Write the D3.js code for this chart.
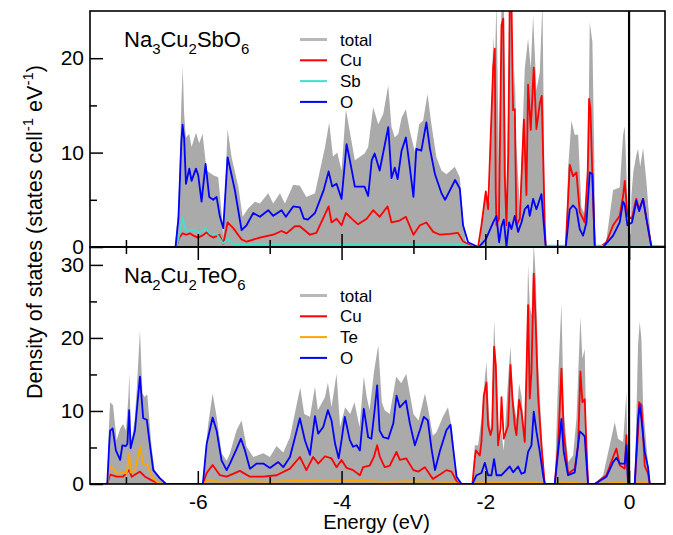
<!DOCTYPE html>
<html><head><meta charset="utf-8">
<script src="https://cdn.jsdelivr.net/npm/d3@7"></script>
<style>
body{margin:0;background:#fff}
text{font-family:"Liberation Sans",Arial,Helvetica,sans-serif;fill:#000}
</style>
</head><body>
<svg id="chart" width="673" height="535"></svg>
<script>
// ---------------- DATA ----------------
const energyDomain = [-7.5, 0.5];
const xMajorTicks = [-6, -4, -2, 0];
const xMinorTicks = [-7, -5, -3, -1];
const topYDomain = [0, 25];
const topYMajor = [0, 10, 20];
const topYMinor = [5, 15];
const botYDomain = [0, 32.45];
const botYMajor = [0, 10, 20, 30];
const botYMinor = [5, 15, 25];
const topLegend = ["total", "Cu", "Sb", "O"];
const botLegend = ["total", "Cu", "Te", "O"];

// Na3Cu2SbO6 (top panel), [energy eV, DOS]
const sbTotal = [[-7.5,0],[-6.32,0],[-6.27,4],[-6.23,15],[-6.21,19.1],[-6.19,14],[-6.165,11.6],[-6.12,12.0],[-6.087,10.6],[-6.026,12.1],[-5.98,11.0],[-5.934,12.0],[-5.878,8.1],[-5.785,7.6],[-5.716,7.4],[-5.669,3.6],[-5.646,1.1],[-5.586,12.5],[-5.53,9.5],[-5.437,6.4],[-5.377,3.2],[-5.298,4.1],[-5.206,4.8],[-5.136,4.6],[-5.02,5.7],[-4.951,4.6],[-4.858,5.7],[-4.788,4.6],[-4.673,6.6],[-4.58,6.5],[-4.49,5.3],[-4.37,5.7],[-4.23,10.6],[-4.172,13.2],[-4.12,9.6],[-4.06,10.0],[-4.0,8.1],[-3.94,14.6],[-3.885,12.2],[-3.815,9.2],[-3.68,9.9],[-3.63,10.6],[-3.56,14.8],[-3.49,13.0],[-3.42,14.1],[-3.351,17.1],[-3.305,12.7],[-3.26,11.6],[-3.21,12.0],[-3.165,13.7],[-3.106,14.6],[-3.05,12.3],[-2.98,10.1],[-2.92,13.0],[-2.865,13.4],[-2.804,16.2],[-2.75,13.0],[-2.68,9.5],[-2.61,8.1],[-2.54,7.7],[-2.424,8.5],[-2.355,7.4],[-2.31,3.0],[-2.27,0.6],[-2.24,0],[-2.077,0],[-2.054,2.7],[-1.993,5.9],[-1.938,4.6],[-1.891,22.4],[-1.868,19],[-1.845,26],[-1.808,7.6],[-1.775,26],[-1.743,26],[-1.706,4.1],[-1.66,26],[-1.636,26],[-1.613,13.6],[-1.59,18.8],[-1.567,10.7],[-1.52,4.1],[-1.451,18.9],[-1.405,22.1],[-1.368,18.9],[-1.335,24.5],[-1.289,16.6],[-1.242,18.5],[-1.205,26],[-1.173,4],[-1.159,0],[-0.881,0],[-0.848,8.3],[-0.802,13.4],[-0.756,11.9],[-0.709,11.9],[-0.663,4.2],[-0.617,3.5],[-0.57,9.0],[-0.547,23.8],[-0.51,21.7],[-0.487,11],[-0.468,0],[-0.361,0],[-0.315,0.8],[-0.222,6.05],[-0.13,6.3],[-0.083,11.9],[-0.06,12.8],[-0.023,5],[-0.01,0],[0.02,0],[0.033,5.5],[0.06,8.0],[0.10,9.7],[0.125,10.4],[0.155,8.5],[0.195,10.5],[0.241,7.0],[0.311,0],[0.5,0]];
const sbCu = [[-7.5,0],[-6.30,0],[-6.26,1.0],[-6.212,1.45],[-6.16,1.3],[-6.11,1.45],[-6.06,1.2],[-6.0,1.0],[-5.94,1.2],[-5.878,1.55],[-5.83,1.2],[-5.785,1.0],[-5.70,1.3],[-5.646,0.3],[-5.586,2.6],[-5.507,2.0],[-5.391,0.8],[-5.32,0.56],[-5.136,1.0],[-4.951,1.3],[-4.835,1.7],[-4.765,1.45],[-4.649,2.2],[-4.58,2.2],[-4.44,1.3],[-4.35,1.5],[-4.18,4.3],[-4.14,2.6],[-4.07,3.0],[-4.0,2.3],[-3.94,3.6],[-3.86,3.0],[-3.77,2.4],[-3.65,3.0],[-3.56,3.9],[-3.47,3.2],[-3.36,4.3],[-3.305,2.6],[-3.19,2.8],[-3.105,3.2],[-3.0,1.3],[-2.91,2.3],[-2.82,2.6],[-2.725,1.6],[-2.63,1.3],[-2.49,1.4],[-2.38,1.5],[-2.31,0.6],[-2.17,0],[-2.10,0],[-2.054,2.3],[-1.993,5.9],[-1.961,4.0],[-1.891,19.0],[-1.868,21.0],[-1.855,6],[-1.845,2.3],[-1.81,3],[-1.775,23.5],[-1.75,24.2],[-1.729,7.5],[-1.706,2.3],[-1.68,10],[-1.66,26],[-1.636,26],[-1.613,14.5],[-1.59,14.6],[-1.567,2.3],[-1.52,3.0],[-1.463,13.5],[-1.428,5.5],[-1.405,17.2],[-1.368,12.4],[-1.326,19.0],[-1.289,12.5],[-1.242,15.2],[-1.215,16.0],[-1.173,2.3],[-1.159,0],[-0.881,0],[-0.825,8.7],[-0.779,7.5],[-0.732,7.9],[-0.686,3.7],[-0.617,2.6],[-0.575,8],[-0.556,15.7],[-0.538,14.6],[-0.51,7.5],[-0.477,0],[-0.40,0],[-0.315,0.5],[-0.222,2.3],[-0.13,3.3],[-0.083,5.4],[-0.06,7.0],[-0.023,3.3],[0.04,3.0],[0.079,4.4],[0.10,5.1],[0.14,4.0],[0.195,5.1],[0.241,3.0],[0.311,0],[0.5,0]];
const sbSb = [[-7.5,0],[-6.30,0],[-6.25,1.5],[-6.212,3.1],[-6.165,1.7],[-6.087,1.8],[-6.026,1.8],[-5.98,1.5],[-5.892,2.0],[-5.832,1.4],[-5.739,1.4],[-5.646,0.35],[-5.586,0.9],[-5.507,0.3],[-5.40,0.3],[-2.30,0.3],[-2.20,0.05],[-2.05,0.15],[-1.16,0.15],[-0.88,0.15],[0.31,0.15],[0.5,0.1]];
const sbO = [[-7.5,0],[-6.31,0],[-6.27,3],[-6.23,11],[-6.212,12.95],[-6.19,11.5],[-6.165,6.7],[-6.119,8.3],[-6.087,7.0],[-6.026,8.3],[-5.994,7.6],[-5.948,4.8],[-5.892,8.8],[-5.841,5.3],[-5.785,5.0],[-5.739,5.3],[-5.692,3.2],[-5.646,2.0],[-5.586,9.5],[-5.544,8.1],[-5.484,6.0],[-5.391,1.8],[-5.322,2.3],[-5.229,3.6],[-5.136,3.2],[-5.02,3.9],[-4.951,3.3],[-4.835,3.9],[-4.775,3.2],[-4.673,4.3],[-4.58,4.2],[-4.524,3.0],[-4.47,2.9],[-4.37,3.6],[-4.25,6.0],[-4.18,8.0],[-4.13,6.4],[-4.07,6.7],[-4.0,5.1],[-3.93,10.9],[-3.885,9.2],[-3.815,6.4],[-3.68,6.4],[-3.63,5.4],[-3.58,9.2],[-3.54,9.9],[-3.47,8.1],[-3.35,12.7],[-3.305,7.3],[-3.26,8.4],[-3.22,7.2],[-3.165,10.2],[-3.105,11.6],[-3.05,8.4],[-3.0,5.3],[-2.96,10.4],[-2.89,10.2],[-2.82,13.2],[-2.77,10.4],[-2.70,7.7],[-2.61,5.7],[-2.56,5.0],[-2.42,7.1],[-2.355,6.2],[-2.31,2.3],[-2.24,0.5],[-2.10,0],[-2.054,0.3],[-1.993,0.8],[-1.891,2.6],[-1.845,3.3],[-1.808,0.5],[-1.775,2.2],[-1.743,2.9],[-1.706,0],[-1.669,2.6],[-1.636,1.9],[-1.59,3.3],[-1.544,1.6],[-1.497,2.6],[-1.451,4.0],[-1.405,4.4],[-1.382,3.3],[-1.335,5.1],[-1.289,4.0],[-1.219,5.6],[-1.187,2.5],[-1.159,0],[-0.881,0],[-0.825,4.0],[-0.779,4.4],[-0.732,4.0],[-0.686,1.9],[-0.64,1.2],[-0.593,2.6],[-0.547,7.9],[-0.51,7.7],[-0.477,0],[-0.36,0],[-0.222,1.2],[-0.13,2.6],[-0.083,4.8],[-0.06,4.5],[-0.023,2.3],[0.04,2.6],[0.079,4.0],[0.10,4.9],[0.14,3.8],[0.195,5.1],[0.241,3.0],[0.311,0],[0.5,0]];

// Na2Cu2TeO6 (bottom panel), [energy eV, DOS]
const teTotal = [[-7.5,0],[-7.26,0],[-7.24,7],[-7.22,11.2],[-7.18,10.8],[-7.13,6.0],[-7.08,7.6],[-7.04,8.2],[-7.0,7.3],[-6.965,12],[-6.953,15.2],[-6.935,8],[-6.92,6.0],[-6.88,8.7],[-6.85,12.8],[-6.805,21.05],[-6.77,12.4],[-6.74,11.9],[-6.703,12.3],[-6.643,5.0],[-6.60,1.9],[-6.53,1.0],[-6.44,0],[-5.93,0],[-5.90,4],[-5.854,8.3],[-5.794,12.4],[-5.738,9.2],[-5.669,4.2],[-5.599,3.2],[-5.553,4.2],[-5.46,7.4],[-5.391,8.7],[-5.321,5.1],[-5.228,3.7],[-5.089,4.2],[-4.997,3.7],[-4.904,5.2],[-4.811,4.3],[-4.718,6.4],[-4.626,10.8],[-4.575,13.2],[-4.52,9.6],[-4.44,9.2],[-4.37,13.3],[-4.33,10.1],[-4.23,11.9],[-4.19,13.9],[-4.14,10.5],[-4.07,15.1],[-4.02,7.8],[-3.95,10.5],[-3.88,9.6],[-3.82,11.2],[-3.75,7.8],[-3.69,14.7],[-3.65,11.9],[-3.61,10.1],[-3.55,15.3],[-3.49,19.0],[-3.44,11.2],[-3.40,10.1],[-3.33,9.6],[-3.24,14.7],[-3.17,13.8],[-3.10,15.1],[-3.0,9.6],[-2.93,8.7],[-2.84,12.4],[-2.80,10.5],[-2.73,6.6],[-2.68,7.1],[-2.59,9.2],[-2.52,10.5],[-2.46,7.4],[-2.40,1.0],[-2.33,0],[-2.18,0],[-2.146,5.3],[-2.10,5.3],[-2.054,8.9],[-2.007,14.4],[-1.984,16.7],[-1.947,8.9],[-1.915,7.1],[-1.878,22.4],[-1.845,15.3],[-1.808,5.3],[-1.775,7.1],[-1.743,4.6],[-1.683,14.4],[-1.65,18.8],[-1.613,11.7],[-1.567,8.9],[-1.53,13.75],[-1.497,12.1],[-1.451,6.2],[-1.405,30],[-1.382,24.5],[-1.358,23.1],[-1.326,33],[-1.298,28.1],[-1.266,16.7],[-1.219,7.6],[-1.173,0],[-1.034,0],[-0.987,14.4],[-0.941,24.7],[-0.909,9.9],[-0.848,3.0],[-0.779,3.9],[-0.732,8.9],[-0.677,22.9],[-0.649,17.2],[-0.617,18.5],[-0.593,5.3],[-0.57,0],[-0.477,0],[-0.361,1.2],[-0.269,5.3],[-0.199,8.5],[-0.153,6.2],[-0.083,5.75],[-0.037,12.6],[-0.014,0],[0.079,0],[0.125,19.0],[0.148,22.2],[0.172,19.9],[0.195,10.8],[0.241,5.3],[0.288,0],[0.5,0]];
const teCu = [[-7.5,0],[-7.26,0],[-7.22,1.3],[-7.13,1.0],[-7.04,1.0],[-6.955,1.9],[-6.92,1.0],[-6.805,1.7],[-6.735,1.0],[-6.64,0.5],[-6.53,0],[-5.93,0],[-5.877,1.5],[-5.794,2.6],[-5.692,1.2],[-5.599,1.0],[-5.414,1.8],[-5.275,1.0],[-5.089,1.0],[-4.904,1.2],[-4.718,2.1],[-4.58,3.7],[-4.49,1.9],[-4.395,3.7],[-4.325,2.8],[-4.23,3.8],[-4.14,3.5],[-4.07,2.3],[-4.0,3.3],[-3.93,2.2],[-3.84,1.9],[-3.745,1.2],[-3.70,2.3],[-3.61,2.5],[-3.55,3.7],[-3.505,5.3],[-3.467,3.7],[-3.40,2.3],[-3.33,2.5],[-3.236,4.4],[-3.19,3.3],[-3.10,3.5],[-3.0,1.9],[-2.93,1.7],[-2.84,2.3],[-2.73,0.7],[-2.63,1.3],[-2.54,1.9],[-2.47,1.7],[-2.40,0.4],[-2.36,0],[-2.18,0],[-2.146,3.5],[-2.132,4.6],[-2.077,3.9],[-2.054,5.75],[-2.021,12.1],[-1.984,13.9],[-1.961,8.0],[-1.928,6.7],[-1.905,7.6],[-1.878,18.8],[-1.854,16.3],[-1.822,5.3],[-1.789,7.6],[-1.775,11.9],[-1.743,6.2],[-1.683,8.0],[-1.65,16.3],[-1.622,11.7],[-1.59,8.0],[-1.567,6.7],[-1.53,11.5],[-1.497,9.9],[-1.451,5.75],[-1.405,24.5],[-1.382,11.7],[-1.358,15.3],[-1.326,28.8],[-1.298,21.7],[-1.266,12.1],[-1.219,5.3],[-1.173,0],[-1.034,0],[-0.987,5.3],[-0.941,15.8],[-0.909,7.1],[-0.848,1.4],[-0.756,2.1],[-0.709,5.3],[-0.677,15.4],[-0.649,11.2],[-0.617,11.6],[-0.593,5.3],[-0.57,0],[-0.477,0],[-0.315,1.2],[-0.222,3.7],[-0.176,4.85],[-0.13,2.56],[-0.06,2.1],[-0.037,6.7],[-0.014,0],[0.079,0],[0.125,7.1],[0.139,11.2],[0.172,10.8],[0.218,2.5],[0.264,1.4],[0.288,0],[0.5,0]];
const teTe = [[-7.5,0],[-7.26,0],[-7.22,2.4],[-7.18,2.2],[-7.13,1.4],[-7.04,1.6],[-6.99,1.4],[-6.955,4.2],[-6.935,1.6],[-6.875,1.8],[-6.805,5.1],[-6.76,2.8],[-6.70,2.6],[-6.64,1.0],[-6.57,0.3],[-6.48,0],[-5.93,0],[-5.85,0.6],[-5.70,0.3],[-5.40,0.4],[-5.0,0.3],[-4.6,0.5],[-4.2,0.4],[-3.8,0.5],[-3.4,0.3],[-3.0,0.4],[-2.6,0.3],[-2.40,0.1],[-2.33,0],[-2.18,0],[-2.10,0.2],[-1.30,0.3],[-1.173,0],[-1.034,0],[-0.95,0.3],[-0.57,0],[-0.477,0],[-0.10,0.2],[-0.014,0],[0.079,0],[0.15,0.3],[0.288,0],[0.5,0]];
const teO = [[-7.5,0],[-7.26,0],[-7.235,5],[-7.22,7.3],[-7.185,7.6],[-7.14,4.6],[-7.08,3.3],[-7.05,5.3],[-7.0,5.2],[-6.98,5.5],[-6.955,10.1],[-6.935,4.9],[-6.875,7.3],[-6.805,14.7],[-6.76,9.0],[-6.71,8.8],[-6.675,6.0],[-6.62,1.9],[-6.53,0.8],[-6.44,0],[-5.93,0],[-5.877,5.5],[-5.794,9.1],[-5.738,7.3],[-5.669,3.2],[-5.599,1.9],[-5.553,2.8],[-5.46,4.8],[-5.40,6.2],[-5.344,4.6],[-5.275,2.1],[-5.182,2.8],[-5.089,2.8],[-4.997,2.2],[-4.881,3.0],[-4.811,2.3],[-4.718,3.7],[-4.58,9.0],[-4.51,6.0],[-4.44,4.0],[-4.37,9.3],[-4.325,6.9],[-4.255,7.8],[-4.19,10.1],[-4.14,8.7],[-4.09,5.5],[-4.04,3.5],[-4.0,6.0],[-3.955,9.2],[-3.885,6.0],[-3.84,5.1],[-3.79,5.3],[-3.745,4.6],[-3.69,10.3],[-3.63,6.4],[-3.585,6.2],[-3.54,10.1],[-3.505,13.5],[-3.47,7.3],[-3.42,6.4],[-3.35,6.2],[-3.28,8.3],[-3.235,12.1],[-3.19,10.5],[-3.105,11.4],[-3.05,8.3],[-2.98,5.3],[-2.91,7.4],[-2.855,9.2],[-2.80,8.7],[-2.75,4.9],[-2.70,1.9],[-2.63,4.6],[-2.54,7.4],[-2.485,8.1],[-2.45,5.1],[-2.40,1.0],[-2.33,0],[-2.18,0],[-2.123,1.2],[-2.054,1.5],[-2.007,2.9],[-1.961,1.2],[-1.915,1.2],[-1.878,3.4],[-1.845,1.2],[-1.775,1.2],[-1.66,2.4],[-1.613,1.6],[-1.544,2.4],[-1.497,1.4],[-1.451,1.6],[-1.405,4.4],[-1.358,5.3],[-1.326,9.9],[-1.289,7.2],[-1.242,4.4],[-1.196,1.2],[-1.173,0],[-1.034,0],[-0.987,4.4],[-0.941,8.9],[-0.909,4.4],[-0.848,1.2],[-0.756,1.6],[-0.686,7.2],[-0.64,6.8],[-0.617,6.5],[-0.593,3.0],[-0.57,0],[-0.477,0],[-0.315,1.0],[-0.222,3.0],[-0.176,3.6],[-0.13,2.8],[-0.06,2.8],[-0.037,5.3],[-0.014,0],[0.079,0],[0.125,8.9],[0.148,10.8],[0.172,8.9],[0.218,4.4],[0.264,2.3],[0.288,0],[0.5,0]];

// ---------------- DRAW ----------------
const svg = d3.select("#chart");
const L = 90, R = 665, T1 = 11, MID = 247, B2 = 484;
const x = d3.scaleLinear().domain(energyDomain).range([L, R]);
const yTop = d3.scaleLinear().domain(topYDomain).range([MID, T1]);
const yBot = d3.scaleLinear().domain(botYDomain).range([B2, MID]);

const colors = {total:"#aaaaaa", Cu:"#ff0000", Sb:"#40e0d0", Te:"#ffa500", O:"#0000ff"};

function drawPanel(id, y, top, bottom, total, parts, names, title, legendY) {
  const g = svg.append("g");
  g.append("clipPath").attr("id", id).append("rect")
    .attr("x", L).attr("y", top).attr("width", R - L).attr("height", bottom - top);
  const plot = g.append("g").attr("clip-path", `url(#${id})`);
  plot.append("path").datum(total)
    .attr("fill", colors.total)
    .attr("d", d3.area().x(d => x(d[0])).y0(y(0)).y1(d => y(d[1])));
  const line = d3.line().x(d => x(d[0])).y(d => y(d[1]));
  parts.forEach(p => {
    plot.append("path").datum(p.data)
      .attr("fill", "none").attr("stroke", colors[p.name])
      .attr("stroke-width", 1.8).attr("stroke-linejoin", "round")
      .attr("d", line);
  });
  // title with subscripts
  const t = g.append("text").attr("x", 124).attr("y", top + 36).attr("font-size", 22);
  title.forEach(s => {
    if (s.sub) t.append("tspan").text(s.t).attr("font-size", 15).attr("dy", 7);
    else t.append("tspan").text(s.t).attr("dy", s.after ? -7 : 0);
  });
  // legend
  names.forEach((n, i) => {
    const ly = legendY + i * 20.8;
    g.append("line").attr("x1", 300).attr("x2", 327).attr("y1", ly).attr("y2", ly)
      .attr("stroke", n === "total" ? "#b8b8b8" : colors[n])
      .attr("stroke-width", n === "total" ? 3 : 2);
    g.append("text").attr("x", 340).attr("y", ly + 6).attr("font-size", 17).text(n);
  });
  return g;
}

drawPanel("clipTop", yTop, T1, MID, sbTotal,
  [{name:"Cu", data:sbCu}, {name:"Sb", data:sbSb}, {name:"O", data:sbO}],
  topLegend,
  [{t:"Na"},{t:"3",sub:true},{t:"Cu",after:true},{t:"2",sub:true},{t:"SbO",after:true},{t:"6",sub:true}],
  39.5);
drawPanel("clipBot", yBot, MID, B2, teTotal,
  [{name:"Cu", data:teCu}, {name:"Te", data:teTe}, {name:"O", data:teO}],
  botLegend,
  [{t:"Na"},{t:"2",sub:true},{t:"Cu",after:true},{t:"2",sub:true},{t:"TeO",after:true},{t:"6",sub:true}],
  295.5);

// axes
function styleAxis(sel) {
  sel.select(".domain").remove();
  sel.selectAll(".tick line").attr("stroke", "#000").attr("stroke-width", 1.5);
  sel.selectAll("text").attr("font-size", 21).attr("font-family", '"Liberation Sans",Arial,sans-serif').attr("fill", "#000");
}
function noText(sel) { sel.selectAll("text").remove(); }
const fmt = d => String(d);

// top panel bottom edge (ticks up)
svg.append("g").attr("transform", `translate(0,${MID})`)
  .call(d3.axisBottom(x).tickValues(xMajorTicks).tickSize(-13)).call(styleAxis).call(noText);
svg.append("g").attr("transform", `translate(0,${MID})`)
  .call(d3.axisBottom(x).tickValues(xMinorTicks).tickSize(-7)).call(styleAxis).call(noText);
// bottom panel top edge (ticks down)
svg.append("g").attr("transform", `translate(0,${MID})`)
  .call(d3.axisTop(x).tickValues(xMajorTicks).tickSize(-13)).call(styleAxis).call(noText);
svg.append("g").attr("transform", `translate(0,${MID})`)
  .call(d3.axisTop(x).tickValues(xMinorTicks).tickSize(-7)).call(styleAxis).call(noText);
// bottom panel bottom edge
svg.append("g").attr("transform", `translate(0,${B2})`)
  .call(d3.axisBottom(x).tickValues(xMajorTicks).tickSize(-13).tickPadding(10).tickFormat(fmt)).call(styleAxis);
svg.append("g").attr("transform", `translate(0,${B2})`)
  .call(d3.axisBottom(x).tickValues(xMinorTicks).tickSize(-7)).call(styleAxis).call(noText);
// y axes
svg.append("g").attr("transform", `translate(${L},0)`)
  .call(d3.axisLeft(yTop).tickValues(topYMajor).tickSize(-13).tickPadding(6).tickFormat(fmt)).call(styleAxis);
svg.append("g").attr("transform", `translate(${L},0)`)
  .call(d3.axisLeft(yTop).tickValues(topYMinor).tickSize(-7)).call(styleAxis).call(noText);
svg.append("g").attr("transform", `translate(${L},0)`)
  .call(d3.axisLeft(yBot).tickValues(botYMajor).tickSize(-13).tickPadding(6).tickFormat(fmt)).call(styleAxis);
svg.append("g").attr("transform", `translate(${L},0)`)
  .call(d3.axisLeft(yBot).tickValues(botYMinor).tickSize(-7)).call(styleAxis).call(noText);

// frames
[[T1, MID], [MID, B2]].forEach(([a, b]) => {
  svg.append("rect").attr("x", L).attr("y", a).attr("width", R - L).attr("height", b - a)
    .attr("fill", "none").attr("stroke", "#000").attr("stroke-width", 1.6);
});
// Fermi level line
svg.append("line").attr("x1", x(0)).attr("x2", x(0)).attr("y1", T1).attr("y2", B2)
  .attr("stroke", "#000").attr("stroke-width", 2.2);

// axis titles
svg.append("text").attr("x", (L + R) / 2 - 1).attr("y", 529).attr("text-anchor", "middle")
  .attr("font-size", 20).text("Energy (eV)");
const yt = svg.append("text").attr("transform", "translate(42,232) rotate(-90)")
  .attr("text-anchor", "middle").attr("font-size", 21.5);
yt.append("tspan").text("Density of states (states cell");
yt.append("tspan").text("-1").attr("font-size", 15).attr("dy", -9);
yt.append("tspan").text(" eV").attr("dy", 9);
yt.append("tspan").text("-1").attr("font-size", 15).attr("dy", -9);
yt.append("tspan").text(")").attr("dy", 9);
</script>
</body></html>
